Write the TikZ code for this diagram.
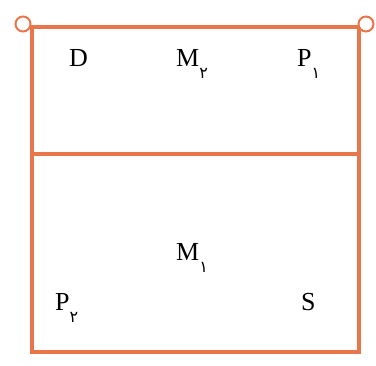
\documentclass[tikz,border=0pt]{standalone}
\usepackage{fontspec}
\setmainfont{Liberation Serif}
\newfontfamily\persfont{DejaVu Sans}
\definecolor{frameor}{RGB}{232,118,74}
\newcommand{\pd}[1]{\raisebox{-12pt}{\fontsize{16}{16}\selectfont\persfont #1}}
\begin{document}
\begin{tikzpicture}[x=1pt,y=-1pt,
  frame/.style={draw=frameor,line width=3.3pt},
  ring/.style={circle,draw=frameor,line width=2pt,fill=white,minimum size=15pt,inner sep=0pt},
  lab/.style={font=\fontsize{26}{26}\selectfont,inner sep=0pt,anchor=base west}]
\useasboundingbox (0,0) rectangle (376,366);
\fill[white] (0,0) rectangle (376,366);
\coordinate (tl) at (32,27);
\coordinate (tr) at (359,27);
\coordinate (bl) at (32,352);
\coordinate (br) at (359,352);
\coordinate (ml) at (32,154);
\coordinate (mr) at (359,154);
\draw[frame] (tl) -- (tr) -- (br) -- (bl) -- cycle;
\draw[frame] (ml) -- (mr);
\node[ring] (cl) at (23,24) {};
\node[ring] (cr) at (366,24) {};
\draw[frame] (cl) -- (tl);
\draw[frame] (cr) -- (tr);
\node[lab] (d) at (69,67) {D};
\node[lab] (m2) at (176,67) {M\pd{۲}};
\node[lab] (p1) at (297,67) {P\pd{۱}};
\node[lab] (m1) at (176,261) {M\pd{۱}};
\node[lab] (p2) at (55,311) {P\pd{۲}};
\node[lab] (s) at (301,311) {S};
\end{tikzpicture}
\end{document}
